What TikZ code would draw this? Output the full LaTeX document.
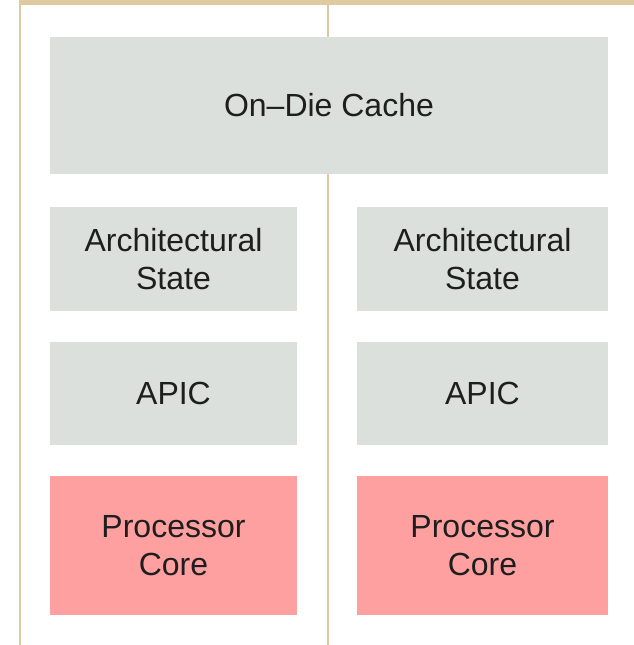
\documentclass[tikz,border=0pt]{standalone}
\usepackage{fontspec}
\setmainfont{Liberation Sans}
\usepackage{tikz}

\definecolor{rulecol}{HTML}{DFC9A0}
\definecolor{boxgray}{HTML}{DCE0DD}
\definecolor{corepink}{HTML}{FFA0A0}
\definecolor{textcol}{HTML}{1E1E1E}

\tikzset{
  blk/.style={fill=boxgray,draw=none,inner sep=0pt,align=center,
    text=textcol,font=\fontsize{16}{19}\selectfont},
  coreblk/.style={blk,fill=corepink}
}

\begin{document}
\begin{tikzpicture}[x=0.5pt,y=-0.5pt]
\useasboundingbox (0,0) rectangle (634,645);
% frame lines
\draw[rulecol,line width=2.5pt] (19,2.5) -- (634,2.5);
\draw[rulecol,line width=1.2pt] (20,0) -- (20,645);
\draw[rulecol,line width=1pt] (328,0) -- (328,645);
% shared cache
\node[blk,minimum width=279pt,minimum height=68.5pt] (cache) at (329,105.5)
  {On\textendash Die Cache};
% two logical processors
\foreach \nm/\x/\w in {left/173.5/123.5,right/482.5/125.5}{
  \node[blk,minimum width=\w pt,minimum height=52pt] (arch\nm) at (\x,259)
    {Architectural\\State};
  \node[blk,minimum width=\w pt,minimum height=51.5pt] (apic\nm) at (\x,393.5)
    {APIC};
  \node[coreblk,minimum width=\w pt,minimum height=69.5pt] (core\nm) at (\x,545.5)
    {Processor\\Core};
}
\end{tikzpicture}
\end{document}
